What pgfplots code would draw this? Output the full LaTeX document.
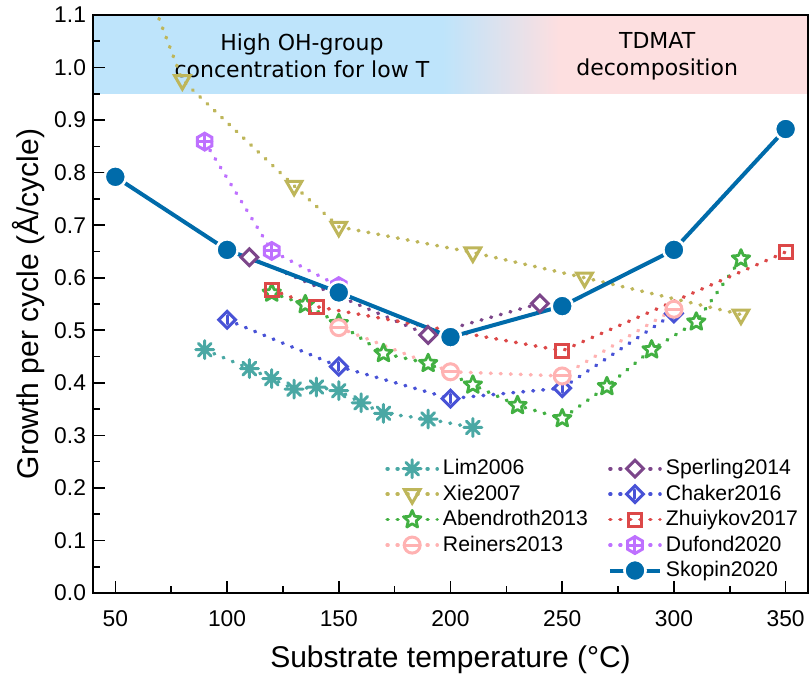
\documentclass[border=0pt]{standalone}
\usepackage{fontspec}
\setmainfont{Liberation Sans}
\newfontfamily\bandfont{DejaVu Sans}
\usepackage{pgfplots}
\pgfplotsset{compat=1.18}

\definecolor{cLim}{RGB}{74,168,164}
\definecolor{cXie}{RGB}{190,182,90}
\definecolor{cAbe}{RGB}{66,176,66}
\definecolor{cRei}{RGB}{255,178,178}
\definecolor{cSpe}{RGB}{124,70,138}
\definecolor{cCha}{RGB}{72,82,214}
\definecolor{cZhu}{RGB}{220,72,72}
\definecolor{cDuf}{RGB}{190,112,255}
\definecolor{cSko}{RGB}{0,107,170}
\definecolor{bandblue}{RGB}{190,228,251}
\definecolor{bandpink}{RGB}{253,223,224}

% custom marks
\pgfdeclareplotmark{ast8}{%
  \pgfpathmoveto{\pgfqpoint{-\pgfplotmarksize}{0pt}}\pgfpathlineto{\pgfqpoint{\pgfplotmarksize}{0pt}}%
  \pgfpathmoveto{\pgfqpoint{0pt}{-\pgfplotmarksize}}\pgfpathlineto{\pgfqpoint{0pt}{\pgfplotmarksize}}%
  \pgfpathmoveto{\pgfqpoint{-0.707\pgfplotmarksize}{-0.707\pgfplotmarksize}}\pgfpathlineto{\pgfqpoint{0.707\pgfplotmarksize}{0.707\pgfplotmarksize}}%
  \pgfpathmoveto{\pgfqpoint{-0.707\pgfplotmarksize}{0.707\pgfplotmarksize}}\pgfpathlineto{\pgfqpoint{0.707\pgfplotmarksize}{-0.707\pgfplotmarksize}}%
  \pgfusepathqstroke}
\pgfdeclareplotmark{ominus}{%
  \pgfpathcircle{\pgfpointorigin}{\pgfplotmarksize}\pgfusepathqfillstroke
  \pgfpathmoveto{\pgfqpoint{-\pgfplotmarksize}{0pt}}\pgfpathlineto{\pgfqpoint{\pgfplotmarksize}{0pt}}\pgfusepathqstroke}
\pgfdeclareplotmark{sqdiamond}{%
  \pgfpathmoveto{\pgfqpoint{0pt}{\pgfplotmarksize}}\pgfpathlineto{\pgfqpoint{\pgfplotmarksize}{0pt}}%
  \pgfpathlineto{\pgfqpoint{0pt}{-\pgfplotmarksize}}\pgfpathlineto{\pgfqpoint{-\pgfplotmarksize}{0pt}}%
  \pgfpathclose\pgfusepathqfillstroke}
\pgfdeclareplotmark{diamondbar}{%
  \pgfpathmoveto{\pgfqpoint{0pt}{\pgfplotmarksize}}\pgfpathlineto{\pgfqpoint{\pgfplotmarksize}{0pt}}%
  \pgfpathlineto{\pgfqpoint{0pt}{-\pgfplotmarksize}}\pgfpathlineto{\pgfqpoint{-\pgfplotmarksize}{0pt}}%
  \pgfpathclose\pgfusepathqfillstroke
  \pgfpathmoveto{\pgfqpoint{0pt}{0.5\pgfplotmarksize}}\pgfpathlineto{\pgfqpoint{0pt}{-0.5\pgfplotmarksize}}\pgfusepathqstroke}
\pgfdeclareplotmark{hexplus}{%
  \pgfpathmoveto{\pgfqpoint{0pt}{\pgfplotmarksize}}%
  \pgfpathlineto{\pgfqpoint{0.866\pgfplotmarksize}{0.5\pgfplotmarksize}}%
  \pgfpathlineto{\pgfqpoint{0.866\pgfplotmarksize}{-0.5\pgfplotmarksize}}%
  \pgfpathlineto{\pgfqpoint{0pt}{-\pgfplotmarksize}}%
  \pgfpathlineto{\pgfqpoint{-0.866\pgfplotmarksize}{-0.5\pgfplotmarksize}}%
  \pgfpathlineto{\pgfqpoint{-0.866\pgfplotmarksize}{0.5\pgfplotmarksize}}%
  \pgfpathclose\pgfusepathqfillstroke
  \pgfpathmoveto{\pgfqpoint{-0.866\pgfplotmarksize}{0pt}}\pgfpathlineto{\pgfqpoint{0.866\pgfplotmarksize}{0pt}}%
  \pgfpathmoveto{\pgfqpoint{0pt}{-\pgfplotmarksize}}\pgfpathlineto{\pgfqpoint{0pt}{\pgfplotmarksize}}\pgfusepathqstroke}
\pgfdeclareplotmark{ostar}{%
  \pgfpathmoveto{\pgfpointpolar{90}{\pgfplotmarksize}}%
  \pgfpathlineto{\pgfpointpolar{126}{0.45\pgfplotmarksize}}%
  \pgfpathlineto{\pgfpointpolar{162}{\pgfplotmarksize}}%
  \pgfpathlineto{\pgfpointpolar{198}{0.45\pgfplotmarksize}}%
  \pgfpathlineto{\pgfpointpolar{234}{\pgfplotmarksize}}%
  \pgfpathlineto{\pgfpointpolar{270}{0.45\pgfplotmarksize}}%
  \pgfpathlineto{\pgfpointpolar{306}{\pgfplotmarksize}}%
  \pgfpathlineto{\pgfpointpolar{342}{0.45\pgfplotmarksize}}%
  \pgfpathlineto{\pgfpointpolar{18}{\pgfplotmarksize}}%
  \pgfpathlineto{\pgfpointpolar{54}{0.45\pgfplotmarksize}}%
  \pgfpathclose\pgfusepathqfillstroke}

\begin{document}
\begin{tikzpicture}
\begin{axis}[
    scale only axis,
    width=357.5pt, height=289pt,
    xmin=40, xmax=360, ymin=0, ymax=1.1,
    xtick={50,100,...,350},
    minor x tick num=1,
    ytick={0,0.1,...,1.1},
    minor y tick num=1,
    yticklabel style={/pgf/number format/.cd, fixed, fixed zerofill, precision=1},
    xticklabel style={yshift=-5.5pt},
    /pgf/number format/assume math mode=true,
    tick label style={font=\fontsize{11.4}{13}\selectfont},
    tick align=inside,
    xtick pos=bottom, ytick pos=left,
    major tick length=6pt, minor tick length=3.5pt,
    every tick/.style={black, line width=0.8pt},
    axis line style={line width=1pt},
    xlabel={Substrate temperature (°C)},
    ylabel={Growth per cycle (Å/cycle)},
    label style={font=\fontsize{15}{17}\selectfont},
    xlabel style={yshift=-2.5pt},
    ylabel style={yshift=-2pt},
    axis on top,
    clip=true,
    dotline/.style={line width=1.8pt, line cap=round, dash pattern=on 0.4pt off 4.6pt},
    legend style={at={(axis cs:168,0.27)}, anchor=north west, draw=none, fill=none,
      font=\fontsize{10.6}{11.5}\selectfont, row sep=-0.45pt,
      /tikz/every even column/.append style={column sep=8pt}},
    legend cell align=left,
    legend columns=2,
    legend image code/.code={%
      \draw[mark repeat=2,mark phase=2] plot coordinates {(0pt,0pt) (12.5pt,0pt) (25pt,0pt)};},
  ]
  % shaded bands
  \fill[bandblue] (axis cs:40,0.95) rectangle (axis cs:197,1.1);
  \shade[left color=bandblue, right color=bandpink] (axis cs:196.5,0.95) rectangle (axis cs:248.5,1.1);
  \fill[bandpink] (axis cs:248,0.95) rectangle (axis cs:360,1.1);
  \node[font=\bandfont\fontsize{11}{13.5}\selectfont, align=center] at (axis cs:133.5,1.022)
    {High OH-group\\concentration for low T};
  \node[font=\bandfont\fontsize{11}{13.5}\selectfont, align=center] at (axis cs:292.5,1.022)
    {TDMAT\\decomposition};

  % Lim2006
  \addplot[color=cLim, dotline, mark=ast8, mark size=4.5pt, mark options={solid, line width=1.5pt}]
    coordinates {(90,0.463) (110,0.427) (120,0.408) (130,0.388) (140,0.392) (150,0.385)
      (160,0.362) (170,0.342) (190,0.331) (210,0.315)};
  \addlegendentry{Lim2006}
  % Sperling2014
  \addplot[color=cSpe, dotline, mark=sqdiamond, mark size=4.2pt, mark options={solid, fill=white, line width=1.5pt}]
    coordinates {(110,0.639) (190,0.491) (240,0.551)};
  \addlegendentry{Sperling2014}
  % Xie2007
  \addplot[color=cXie, dotline, mark=triangle, mark size=4.5pt, mark options={solid, rotate=180, fill=white, line width=1.5pt}]
    coordinates {(60,1.2) (80,0.976) (130,0.775) (150,0.697) (210,0.648) (260,0.6) (330,0.53)};
  \addlegendentry{Xie2007}
  % Chaker2016
  \addplot[color=cCha, dotline, mark=diamondbar, mark size=4.2pt, mark options={solid, fill=white, line width=1.5pt}]
    coordinates {(100,0.52) (150,0.431) (200,0.37) (250,0.39) (300,0.532)};
  \addlegendentry{Chaker2016}
  % Abendroth2013
  \addplot[color=cAbe, dotline, mark=ostar, mark size=4.6pt, mark options={solid, fill=white, line width=1.4pt, line join=round}]
    coordinates {(120,0.571) (135,0.549) (150,0.513) (170,0.456) (190,0.437) (210,0.396)
      (230,0.357) (250,0.332) (270,0.393) (290,0.463) (310,0.516) (330,0.636)};
  \addlegendentry{Abendroth2013}
  % Zhuiykov2017
  \addplot[color=cZhu, dotline, mark=square, mark size=3.3pt, mark options={solid, fill=white, line width=1.5pt}]
    coordinates {(120,0.577) (140,0.545) (250,0.461) (350,0.649)};
  \addlegendentry{Zhuiykov2017}
  % Reiners2013
  \addplot[color=cRei, dotline, mark=ominus, mark size=4pt, mark options={solid, fill=white, line width=1.5pt}]
    coordinates {(150,0.505) (200,0.421) (250,0.413) (300,0.54)};
  \addlegendentry{Reiners2013}
  % Dufond2020
  \addplot[color=cDuf, dotline, mark=hexplus, mark size=4.2pt, mark options={solid, fill=white, line width=1.5pt}]
    coordinates {(90,0.859) (120,0.651) (150,0.584)};
  \addlegendentry{Dufond2020}
  \addlegendimage{empty legend}
  \addlegendentry{}
  % Skopin2020
  \addplot[color=cSko, line width=2pt, mark=*, mark size=5.3pt, mark options={fill=cSko, draw=white, line width=1.3pt}]
    coordinates {(50,0.792) (100,0.653) (150,0.572) (200,0.487) (250,0.546) (300,0.653) (350,0.883)};
  \addlegendentry{Skopin2020}
\end{axis}
\pgfresetboundingbox
\path (current axis.south west) ++(-46.5pt,-43pt) coordinate (bl);
\path (current axis.north east) ++(1pt,7.5pt) coordinate (tr);
\useasboundingbox (bl) rectangle (tr);
\end{tikzpicture}
\end{document}
